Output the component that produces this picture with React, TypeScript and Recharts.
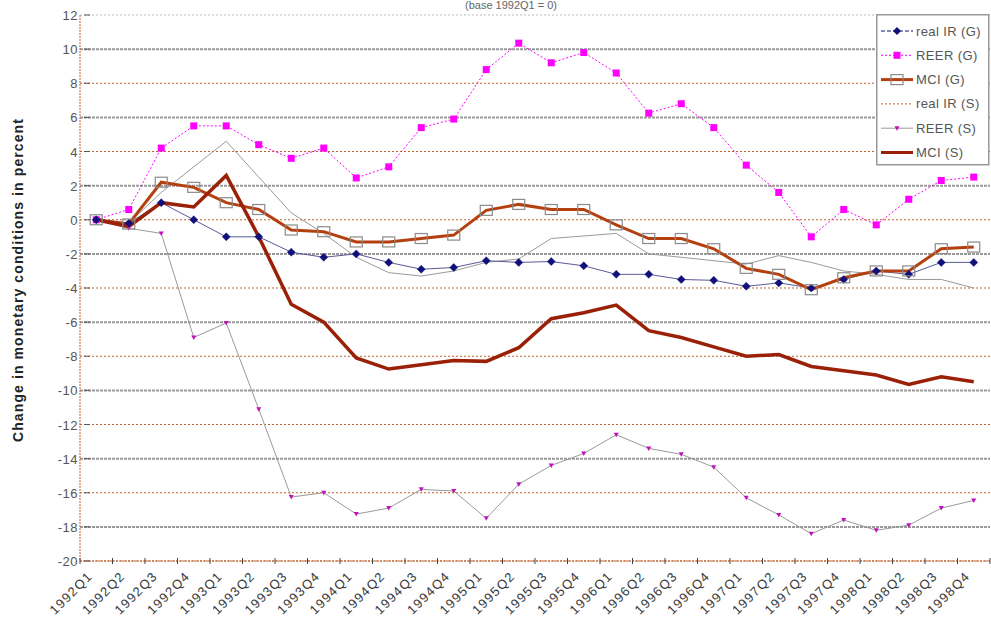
import React from 'react';
import { LineChart, Line, XAxis, YAxis, ReferenceLine } from 'recharts';

const quarters = [
  '1992Q1','1992Q2','1992Q3','1992Q4','1993Q1','1993Q2','1993Q3','1993Q4',
  '1994Q1','1994Q2','1994Q3','1994Q4','1995Q1','1995Q2','1995Q3','1995Q4',
  '1996Q1','1996Q2','1996Q3','1996Q4','1997Q1','1997Q2','1997Q3','1997Q4',
  '1998Q1','1998Q2','1998Q3','1998Q4',
];

const realIrG = [0, -0.2, 1.0, 0.0, -1.0, -1.0, -1.9, -2.2, -2.0, -2.5, -2.9, -2.8, -2.4, -2.5, -2.45, -2.7, -3.2, -3.2, -3.5, -3.55, -3.9, -3.7, -4.0, -3.5, -3.0, -3.2, -2.5, -2.5];
const reerG = [0, 0.6, 4.2, 5.5, 5.5, 4.4, 3.6, 4.2, 2.45, 3.1, 5.4, 5.9, 8.8, 10.35, 9.2, 9.8, 8.6, 6.25, 6.8, 5.4, 3.2, 1.6, -1.0, 0.6, -0.3, 1.2, 2.3, 2.5];
const mciG = [0, -0.25, 2.2, 1.9, 1.0, 0.6, -0.6, -0.7, -1.3, -1.3, -1.1, -0.9, 0.55, 0.9, 0.6, 0.6, -0.3, -1.1, -1.1, -1.7, -2.85, -3.2, -4.1, -3.4, -3.0, -3.0, -1.7, -1.6];
const realIrS = [0, -0.2, 1.6, 3.1, 4.6, 2.5, 0.4, -0.8, -2.2, -3.1, -3.3, -3.0, -2.5, -2.3, -1.1, -0.95, -0.8, -2.0, -2.2, -2.4, -2.6, -2.1, -2.5, -3.0, -3.2, -3.5, -3.5, -4.0];
const reerS = [0, -0.5, -0.8, -6.9, -6.05, -11.1, -16.25, -16.0, -17.25, -16.9, -15.8, -15.9, -17.5, -15.5, -14.4, -13.7, -12.6, -13.4, -13.75, -14.5, -16.3, -17.3, -18.4, -17.6, -18.2, -17.9, -16.9, -16.45];
const mciS = [0, -0.4, 1.0, 0.75, 2.6, -1.0, -4.95, -6.0, -8.1, -8.75, -8.5, -8.25, -8.3, -7.5, -5.8, -5.45, -5.0, -6.5, -6.9, -7.45, -8.0, -7.9, -8.6, -8.85, -9.1, -9.65, -9.2, -9.5];

const yTicks = [12, 10, 8, 6, 4, 2, 0, -2, -4, -6, -8, -10, -12, -14, -16, -18, -20];
const greyGrid = [10, 6, 2, -2, -6, -10, -14, -18];
const brownGrid = [8, 4, 0, -4, -8, -12, -16, -20];

const legendNames = ['real IR (G)', 'REER (G)', 'MCI (G)', 'real IR (S)', 'REER (S)', 'MCI (S)'];

const data = quarters.map((q, i) => ({
  q,
  realIrG: realIrG[i],
  reerG: reerG[i],
  mciG: mciG[i],
  realIrS: realIrS[i],
  reerS: reerS[i],
  mciS: mciS[i],
}));

const FONT = 'Liberation Sans, Arial, sans-serif';
const NAVY = '#10107a';
const MAGENTA = '#ff00ff';
const MCIG = '#b5400f';
const MCIS = '#9a2008';
const GREYLINE = '#9a9a9a';
const HALF = 16.25;

const Diamond = (p: any) => {
  if (p.cx == null || p.cy == null) return <g key={p.index} />;
  const s = 4;
  return <path key={p.index} d={`M${p.cx},${p.cy - s}L${p.cx + s},${p.cy}L${p.cx},${p.cy + s}L${p.cx - s},${p.cy}Z`} fill={NAVY} stroke={NAVY} strokeWidth={0.5} />;
};
const PinkSquare = (p: any) => {
  if (p.cx == null || p.cy == null) return <g key={p.index} />;
  return <rect key={p.index} x={p.cx - 3.5} y={p.cy - 3.5} width={7} height={7} fill={MAGENTA} />;
};
const OpenSquare = (p: any) => {
  if (p.cx == null || p.cy == null) return <g key={p.index} />;
  return <rect key={p.index} x={p.cx - 6} y={p.cy - 5} width={12} height={10} fill="none" stroke="#8a8a8a" strokeWidth={1.2} />;
};
const SmallMark = (p: any) => {
  if (p.cx == null || p.cy == null) return <g key={p.index} />;
  return <path key={p.index} d={`M${p.cx - 2.5},${p.cy - 2}L${p.cx + 2.5},${p.cy - 2}L${p.cx},${p.cy + 2.5}Z`} fill="#c010c0" />;
};

const XTick = (props: any) => {
  const { x, y, payload, index } = props;
  return (
    <g>
      <line x1={x - HALF} x2={x - HALF} y1={y - 3} y2={y + 3} stroke="#444" strokeWidth={1} />
      {index === quarters.length - 1 && (
        <line x1={x + HALF} x2={x + HALF} y1={y - 3} y2={y + 3} stroke="#444" strokeWidth={1} />
      )}
      <text
        transform={`translate(${x - 3},${y + 16}) rotate(-45)`}
        textAnchor="end"
        fontSize={13}
        letterSpacing={1.3}
        fontFamily={FONT}
        fill="#3a3a3a"
      >
        {payload.value}
      </text>
    </g>
  );
};

const YTick = (props: any) => {
  const { x, y, payload } = props;
  return (
    <g>
      <line x1={x + 4} x2={x + 10} y1={y} y2={y} stroke="#555" strokeWidth={1} />
      <text x={x - 2} y={y + 5} textAnchor="end" fontSize={13} letterSpacing={0.5} fontFamily={FONT} fill="#555">
        {payload.value}
      </text>
    </g>
  );
};

const LegendBox = () => {
  const rows = [
    { name: legendNames[0], stroke: NAVY, w: 1, dash: '4 2', mark: 'diamond' },
    { name: legendNames[1], stroke: MAGENTA, w: 1, dash: '2 2', mark: 'pink' },
    { name: legendNames[2], stroke: MCIG, w: 3, dash: undefined, mark: 'open' },
    { name: legendNames[3], stroke: '#c06030', w: 1, dash: '2 2', mark: '' },
    { name: legendNames[4], stroke: GREYLINE, w: 1, dash: undefined, mark: 'small' },
    { name: legendNames[5], stroke: MCIS, w: 3, dash: undefined, mark: '' },
  ];
  return (
    <svg width={114} height={152} style={{ display: 'block' }}>
      <rect x={0.75} y={0.75} width={112} height={150} fill="#fff" stroke="#999" strokeWidth={1.5} />
      {rows.map((r, i) => {
        const cy = 17 + i * 24.3;
        return (
          <g key={r.name}>
            <line x1={5} x2={37} y1={cy} y2={cy} stroke={r.stroke} strokeWidth={r.w} strokeDasharray={r.dash} />
            {r.mark === 'diamond' && <path d={`M21,${cy - 4}L25,${cy}L21,${cy + 4}L17,${cy}Z`} fill={NAVY} />}
            {r.mark === 'pink' && <rect x={17.5} y={cy - 3.5} width={7} height={7} fill={MAGENTA} />}
            {r.mark === 'open' && <rect x={15} y={cy - 5} width={12} height={10} fill="none" stroke="#8a8a8a" strokeWidth={1.2} />}
            {r.mark === 'small' && <path d={`M18.5,${cy - 2}L23.5,${cy - 2}L21,${cy + 2.5}Z`} fill="#c010c0" />}
            <text x={40} y={cy + 4.5} fontSize={13} letterSpacing={0.4} fontFamily={FONT} fill="#555">{r.name}</text>
          </g>
        );
      })}
    </svg>
  );
};

export default function App() {
  return (
    <div style={{ position: 'fixed', left: 0, top: 0, width: 991, height: 628, overflow: 'hidden', background: '#fff', fontFamily: FONT }}>
      <LineChart width={991} height={628} data={data} margin={{ top: 15, right: 1, bottom: 0, left: 8 }}>
        <XAxis
          dataKey="q"
          interval={0}
          height={67}
          padding={{ left: HALF, right: HALF }}
          tickLine={false}
          tickSize={0}
          tickMargin={0}
          axisLine={{ stroke: '#c0602a', strokeDasharray: '2 1' }}
          tick={<XTick />}
        />
        <YAxis
          domain={[-20, 12]}
          ticks={yTicks}
          interval={0}
          width={72}
          tickLine={false}
          tickSize={0}
          tickMargin={0}
          axisLine={{ stroke: '#c0602a', strokeDasharray: '2 1' }}
          tick={<YTick />}
          allowDataOverflow
        />
        <ReferenceLine y={12} stroke="#bbb" strokeWidth={1} strokeDasharray="2 2" />
        {greyGrid.map((v) => (
          <ReferenceLine key={`g${v}`} y={v} stroke="#999" strokeWidth={2} strokeDasharray="3 1" />
        ))}
        {brownGrid.map((v) => (
          <ReferenceLine key={`b${v}`} y={v} stroke="#c0602a" strokeWidth={1} strokeDasharray="2 2" />
        ))}
        <Line dataKey="reerS" name={legendNames[4]} stroke={GREYLINE} strokeWidth={1} dot={SmallMark} activeDot={false} isAnimationActive={false} />
        <Line dataKey="realIrS" name={legendNames[3]} stroke={GREYLINE} strokeWidth={1} dot={false} activeDot={false} isAnimationActive={false} />
        <Line dataKey="reerG" name={legendNames[1]} stroke={MAGENTA} strokeWidth={1} strokeDasharray="2 2" dot={PinkSquare} activeDot={false} isAnimationActive={false} />
        <Line dataKey="realIrG" name={legendNames[0]} stroke="#5a5a9a" strokeWidth={1} dot={Diamond} activeDot={false} isAnimationActive={false} />
        <Line dataKey="mciG" name={legendNames[2]} stroke={MCIG} strokeWidth={3} dot={OpenSquare} activeDot={false} isAnimationActive={false} />
        <Line dataKey="mciS" name={legendNames[5]} stroke={MCIS} strokeWidth={3.5} dot={false} activeDot={false} isAnimationActive={false} />
      </LineChart>
      <div style={{ position: 'absolute', left: 465, top: -1, fontSize: 11, lineHeight: '12px', color: '#666', whiteSpace: 'nowrap' }}>
        (base 1992Q1 = 0)
      </div>
      <div
        style={{
          position: 'absolute',
          left: 18,
          top: 280,
          transform: 'translate(-50%, -50%) rotate(-90deg)',
          whiteSpace: 'nowrap',
          fontWeight: 'bold',
          fontSize: 14,
          letterSpacing: 1.1,
          color: '#222',
        }}
      >
        Change in monetary conditions in percent
      </div>
      <div style={{ position: 'absolute', left: 876, top: 14 }}>
        <LegendBox />
      </div>
    </div>
  );
}
